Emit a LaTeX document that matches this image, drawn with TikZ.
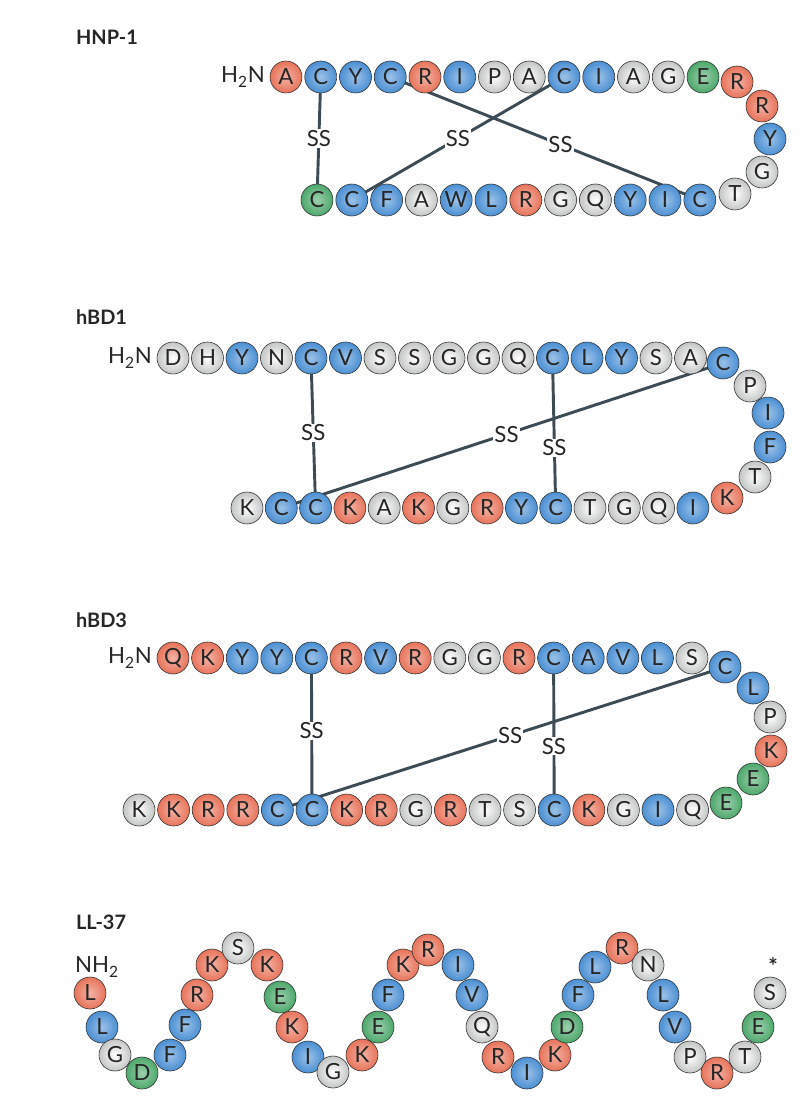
\documentclass[tikz,border=0pt]{standalone}
\usepackage{fontspec}
\setmainfont{Lato}
\usetikzlibrary{backgrounds}
\definecolor{resRed}{HTML}{E8735A}
\definecolor{resBlue}{HTML}{4A8FD3}
\definecolor{resGreen}{HTML}{4CA86A}
\definecolor{resGrey}{HTML}{ECEEEE}
\definecolor{bondCol}{HTML}{3D4B55}
\begin{document}
\begin{tikzpicture}[
    x=0.03cm, y=-0.03cm,
    every node/.style={font=\fontsize{19}{19}\selectfont, text=black!85},
    res/.style={circle, draw=black!80, line width=0.5pt, minimum size=0.96cm, inner sep=0pt},
    aaR/.style={res, inner color=resRed!55!white, outer color=resRed},
    aaB/.style={res, inner color=resBlue!55!white, outer color=resBlue},
    aaG/.style={res, inner color=resGreen!55!white, outer color=resGreen},
    aaW/.style={res, inner color=white, outer color=resGrey!80!black!90},
    title/.style={anchor=west, font=\fontsize{17}{17}\selectfont\bfseries},
    bond/.style={draw=bondCol, line width=2.5pt},
    ss/.style={fill=white, inner sep=1pt}
]
    \useasboundingbox (0,0) rectangle (806,1097);

    % HNP-1
    \node[title] (tHNP) at (72,37) {HNP-1};
    \node (hN) at (243,77) {H\textsubscript{2}N};
    \foreach \l/\c [count=\i] in {A/R,C/B,Y/B,C/B,R/R,I/B,P/W,A/W,C/B,I/B,A/W,G/W,E/G}
        \node[aa\c] (ht\i) at ({286+34.75*(\i-1)},77) {\l};
    \foreach \l/\c/\x/\y [count=\i] in {R/R/737/82,R/R/762/106,Y/B/770/139,G/W/762/172,T/W/735/194}
        \node[aa\c] (hl\i) at (\x,\y) {\l};
    \foreach \l/\c [count=\i] in {C/G,C/B,F/B,A/W,W/B,L/B,R/R,G/W,Q/W,Y/B,I/B,C/B}
        \node[aa\c] (hb\i) at ({317+34.8*(\i-1)},200) {\l};
    \begin{scope}[on background layer]
        \draw[bond] (ht2.center) -- node[ss, pos=.5] {SS} (hb1.center);
        \draw[bond] (ht9.center) -- node[ss, pos=.5] {SS} (hb2.center);
        \draw[bond] (ht4.center) -- node[ss, pos=.55] {SS} (hb12.center);
    \end{scope}

    % hBD1
    \node[title] (tBDa) at (72,317) {hBD1};
    \node (dN) at (130,358) {H\textsubscript{2}N};
    \foreach \l/\c [count=\i] in {D/W,H/W,Y/B,N/W,C/B,V/B,S/W,S/W,G/W,G/W,Q/W,C/B,L/B,Y/B,S/W,A/W}
        \node[aa\c] (dt\i) at ({173+34.5*(\i-1)},358) {\l};
    \foreach \l/\c/\x/\y [count=\i] in {C/B/723/363,P/W/750/386,I/B/768/413,F/B/770/447,T/W/755/477,K/R/727/498}
        \node[aa\c] (dl\i) at (\x,\y) {\l};
    \foreach \l/\c [count=\i] in {K/W,C/B,C/B,K/R,A/W,K/R,G/W,R/R,Y/B,C/B,T/W,G/W,Q/W,I/B}
        \node[aa\c] (db\i) at ({247+34.3*(\i-1)},508) {\l};
    \begin{scope}[on background layer]
        \draw[bond] (dt5.center) -- node[ss, pos=.5] {SS} (db3.center);
        \draw[bond] (dt12.center) -- node[ss, pos=.6] {SS} (db10.center);
        \draw[bond] (dl1.center) -- node[ss, pos=.49] {SS} (db2.center);
    \end{scope}

    % hBD3
    \node[title] (tBDb) at (72,620) {hBD3};
    \node (eN) at (130,658) {H\textsubscript{2}N};
    \foreach \l/\c [count=\i] in {Q/R,K/R,Y/B,Y/B,C/B,R/R,V/B,R/R,G/W,G/W,R/R,C/B,A/B,V/B,L/B,S/W}
        \node[aa\c] (et\i) at ({173+34.6*(\i-1)},658) {\l};
    \foreach \l/\c/\x/\y [count=\i] in {C/B/725/667,L/B/753/688,P/W/770/717,K/R/771/751,E/G/753/779,E/G/726/803}
        \node[aa\c] (el\i) at (\x,\y) {\l};
    \foreach \l/\c [count=\i] in {K/W,K/R,R/R,R/R,C/B,C/B,K/R,R/R,G/W,R/R,T/W,S/W,C/B,K/R,G/W,I/B,Q/W}
        \node[aa\c] (eb\i) at ({139+34.6*(\i-1)},810) {\l};
    \begin{scope}[on background layer]
        \draw[bond] (et5.center) -- node[ss, pos=.48] {SS} (eb6.center);
        \draw[bond] (et12.center) -- node[ss, pos=.58] {SS} (eb13.center);
        \draw[bond] (el1.center) -- node[ss, pos=.48] {SS} (eb5.center);
    \end{scope}

    % LL-37
    \node[title] (tLL) at (72,922) {LL-37};
    \node (lN) at (97,967) {NH\textsubscript{2}};
    \foreach \l/\c/\x/\y [count=\i] in {L/R/90/993,L/B/102/1027,G/W/115/1055,D/G/142/1073,F/B/170/1055,
        F/B/185/1025,R/R/197/995,K/R/212/965,S/W/238/948,K/R/267/965,E/G/280/997,K/R/292/1027,
        I/B/308/1057,G/W/333/1072,K/R/362/1055,E/G/378/1027,F/B/388/995,K/R/403/965,R/R/428/950,
        I/B/458/965,V/B/472/995,Q/W/482/1027,R/R/498/1057,I/B/527/1073,K/R/555/1055,D/G/567/1027,
        F/B/578/995,L/B/595/967,R/R/622/948,N/W/648/965,L/B/663/995,V/B/675/1027,P/W/690/1057,
        R/R/717/1073,T/W/745/1057,E/G/758/1027,S/W/770/993}
        \node[aa\c] (ll\i) at (\x,\y) {\l};
    \node (lEnd) at (773,966) {\textbf{*}};
\end{tikzpicture}
\end{document}
